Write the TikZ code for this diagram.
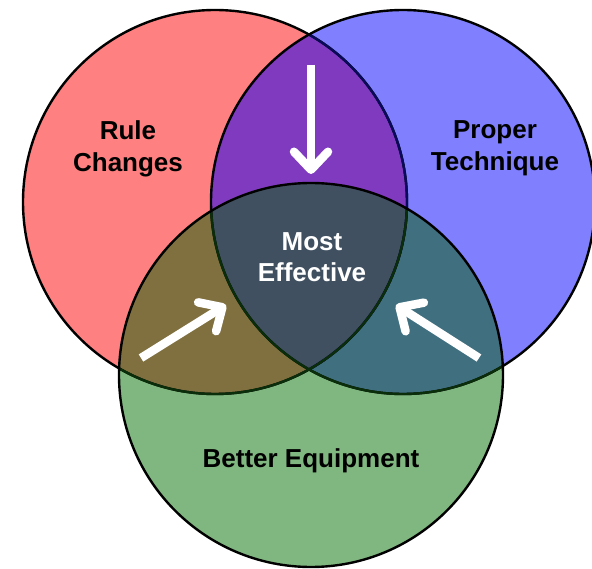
\documentclass[tikz,border=0pt]{standalone}
\usepackage{fontspec}
\setmainfont{Liberation Sans}
\usetikzlibrary{arrows.meta}
\definecolor{cred}{RGB}{255,128,128}
\definecolor{cblue}{RGB}{128,128,255}
\definecolor{cgreen}{RGB}{128,182,128}
\definecolor{cpurple}{RGB}{128,58,192}
\definecolor{colive}{RGB}{128,112,64}
\definecolor{cteal}{RGB}{64,112,128}
\definecolor{ccenter}{RGB}{64,80,96}
\definecolor{navyline}{RGB}{10,10,90}
\definecolor{dgreenline}{RGB}{10,45,10}
\begin{document}
\begin{tikzpicture}[x=1pt,y=-1pt,
  lbl/.style={font=\fontsize{26}{30}\selectfont\bfseries, inner sep=0pt, anchor=base, text=black},
  wlbl/.style={lbl, text=white},
  outline/.style={line width=2.4pt},
  warrow/.style={white, line width=8.5pt, -{Straight Barb[round, length=18pt, width=34pt]}}]
\useasboundingbox (0,0) rectangle (592,569);
\def\rr{192}
\coordinate (R) at (215,202);
\coordinate (B) at (403,202);
\coordinate (G) at (311,375);
% base fills
\fill[cred] (R) circle (\rr);
\fill[cblue] (B) circle (\rr);
\fill[cgreen] (G) circle (\rr);
\begin{scope}\clip (R) circle (\rr); \fill[cpurple] (B) circle (\rr);\end{scope}
\begin{scope}\clip (R) circle (\rr); \fill[colive] (G) circle (\rr);\end{scope}
\begin{scope}\clip (B) circle (\rr); \fill[cteal] (G) circle (\rr);\end{scope}
\begin{scope}\clip (R) circle (\rr); \clip (B) circle (\rr); \fill[ccenter] (G) circle (\rr);\end{scope}
% outlines
\draw[outline] (R) circle (\rr);
\begin{scope}\clip (B) circle (\rr); \draw[outline, navyline] (R) circle (\rr);\end{scope}
\draw[outline] (B) circle (\rr);
\begin{scope}\clip (G) circle (\rr); \draw[outline, dgreenline] (R) circle (\rr); \draw[outline, dgreenline] (B) circle (\rr);\end{scope}
\draw[outline] (G) circle (\rr);
% labels
\node[lbl] (rule) at (128,140) {Rule};
\node[lbl] (changes) at (128,172) {Changes};
\node[lbl] (proper) at (495,139) {Proper};
\node[lbl] (technique) at (495,171) {Technique};
\node[wlbl] (most) at (312,251) {Most};
\node[wlbl] (effective) at (312,282) {Effective};
\node[lbl] (better) at (311,467) {Better Equipment};
% arrows
\coordinate (a1s) at (311,65);
\coordinate (a1e) at (311,174);
\coordinate (a2s) at (141,358);
\coordinate (a2e) at (226,305);
\coordinate (a3s) at (479,358);
\coordinate (a3e) at (396,305);
\draw[warrow] (a1s) -- (a1e);
\draw[warrow] (a2s) -- (a2e);
\draw[warrow] (a3s) -- (a3e);
\end{tikzpicture}
\end{document}
